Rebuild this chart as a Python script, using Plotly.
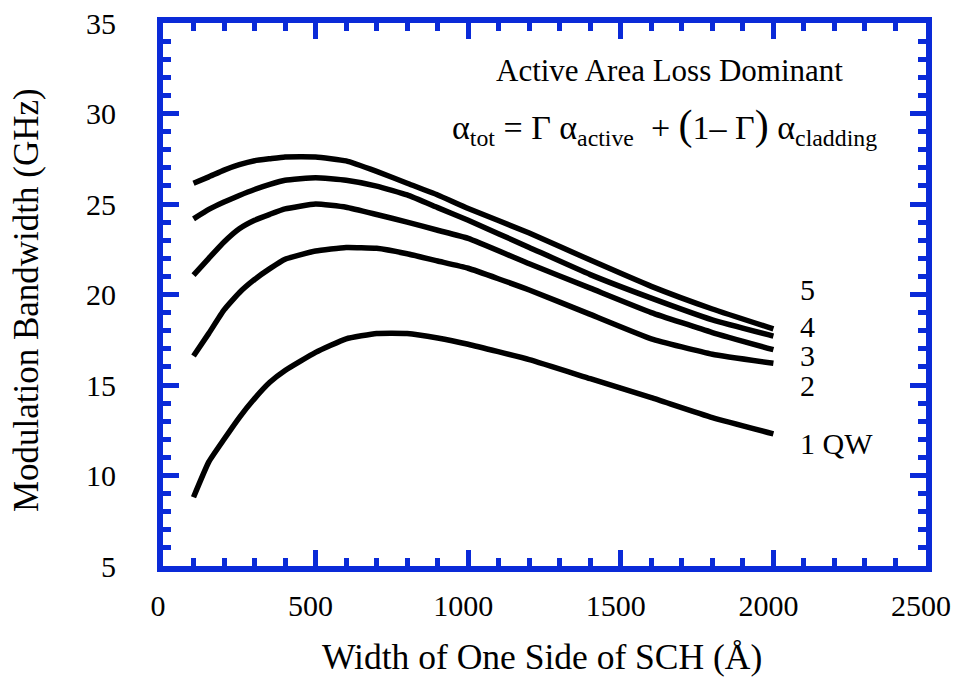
import plotly.graph_objects as go

width_sch = [100, 150, 200, 250, 300, 350, 400, 500, 600, 700, 800, 900, 1000, 1200, 1400, 1600, 1800, 2000]
bw_1qw = [8.8, 10.75, 12.0, 13.2, 14.25, 15.15, 15.8, 16.8, 17.55, 17.85, 17.85, 17.6, 17.25, 16.4, 15.35, 14.3, 13.2, 12.3]
bw_2qw = [16.6, 17.85, 19.15, 20.1, 20.83, 21.43, 21.95, 22.4, 22.6, 22.55, 22.25, 21.85, 21.45, 20.25, 18.9, 17.55, 16.7, 16.2]
bw_3qw = [21.07, 22.0, 22.9, 23.63, 24.1, 24.43, 24.73, 25.0, 24.82, 24.42, 24.0, 23.55, 23.1, 21.7, 20.35, 19.0, 17.9, 16.95]
bw_4qw = [24.18, 24.7, 25.11, 25.47, 25.8, 26.08, 26.31, 26.45, 26.31, 25.99, 25.5, 24.8, 24.1, 22.6, 21.1, 19.8, 18.6, 17.7]
bw_5qw = [26.15, 26.5, 26.87, 27.17, 27.39, 27.5, 27.6, 27.6, 27.38, 26.8, 26.15, 25.5, 24.75, 23.4, 21.9, 20.45, 19.2, 18.1]

series = [bw_1qw, bw_2qw, bw_3qw, bw_4qw, bw_5qw]
curve_labels = ["1 QW", "2", "3", "4", "5"]
label_y = [11.75, 15.0, 16.64, 18.25, 20.3]
x_ticks = [0, 500, 1000, 1500, 2000, 2500]
y_ticks = [5, 10, 15, 20, 25, 30, 35]

BLUE = "#0a2ad8"
FONT = "Liberation Serif"

fig = go.Figure()
for s in series:
    fig.add_trace(go.Scatter(x=width_sch, y=s, mode="lines",
                             line=dict(color="black", width=5.5, shape="spline", smoothing=0.4),
                             showlegend=False, hoverinfo="skip"))

for lab, yy in zip(curve_labels, label_y):
    fig.add_annotation(x=2080, y=yy, text=lab, showarrow=False, xanchor="left",
                       yanchor="middle", font=dict(family=FONT, size=30, color="black"))

fig.add_annotation(x=1660, y=32.4, text="Active Area Loss Dominant", showarrow=False,
                   xanchor="center", yanchor="middle",
                   font=dict(family=FONT, size=31, color="black"))
fig.add_annotation(x=1642, y=29.3,
                   text="α<sub>tot</sub> = Γ α<sub>active</sub>  + <span style='font-size:42px'>(</span>1– Γ<span style='font-size:42px'>)</span> α<sub>cladding</sub>",
                   showarrow=False, xanchor="center", yanchor="middle",
                   font=dict(family=FONT, size=34, color="black"))

# axis titles
fig.add_annotation(xref="paper", yref="paper", x=0.5 - 0.003, y=-0.168,
                   text="Width of One Side of SCH (Å)", showarrow=False,
                   xanchor="center", yanchor="middle",
                   font=dict(family=FONT, size=35.5, color="black"))
fig.add_annotation(xref="paper", yref="paper", x=-0.178, y=0.49,
                   text="Modulation Bandwidth (GHz)", showarrow=False, textangle=-90,
                   xanchor="center", yanchor="middle",
                   font=dict(family=FONT, size=35, color="black"))

axis_common = dict(
    showline=True, linecolor=BLUE, linewidth=6, mirror="ticks",
    ticks="inside", ticklen=16, tickwidth=5, tickcolor=BLUE,
    showgrid=False, zeroline=False, automargin=False,
    tickfont=dict(family=FONT, size=30, color="black"),
)

fig.update_xaxes(range=[0, 2500], tickvals=x_ticks, **axis_common,
                 minor=dict(dtick=100, ticks="inside", ticklen=8, tickwidth=5, tickcolor=BLUE, showgrid=False),
                 ticklabelstandoff=8, ticklabelshift=-5)
fig.update_yaxes(range=[5, 35], tickvals=y_ticks, **axis_common,
                 minor=dict(dtick=1, ticks="inside", ticklen=8, tickwidth=5, tickcolor=BLUE, showgrid=False),
                 ticklabelstandoff=35)

fig.update_layout(width=956, height=684, margin=dict(l=163, r=30, t=23, b=118),
                  plot_bgcolor="white", paper_bgcolor="white",
                  font=dict(family=FONT, color="black"))

fig.write_html("out.html")
